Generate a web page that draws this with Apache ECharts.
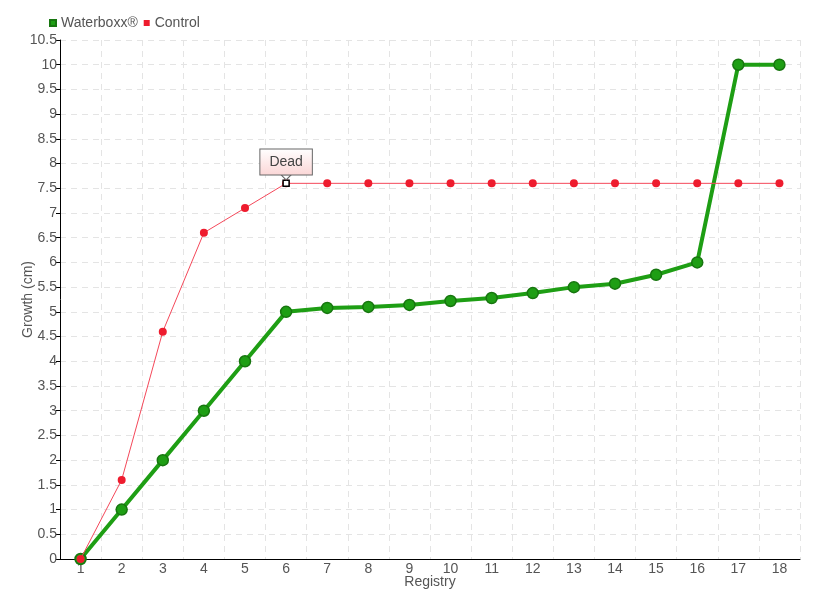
<!DOCTYPE html>
<html>
<head>
<meta charset="utf-8">
<script src="https://cdn.jsdelivr.net/npm/echarts@6/dist/echarts.min.js"></script>
<style>
  html, body { margin: 0; padding: 0; background: #fff; }
  #chart { width: 820px; height: 600px; }
</style>
</head>
<body>
<div id="chart"></div>
<script>
// registry steps on the x axis
const registry = ['1', '2', '3', '4', '5', '6', '7', '8', '9', '10', '11', '12', '13', '14', '15', '16', '17', '18']
// growth in cm
const waterboxx = [0, 1, 2, 3, 4, 5, 5.08, 5.1, 5.14, 5.22, 5.28, 5.38, 5.5, 5.57, 5.75, 6, 10, 10]
const control = [0, 1.6, 4.6, 6.6, 7.1, 7.6, 7.6, 7.6, 7.6, 7.6, 7.6, 7.6, 7.6, 7.6, 7.6, 7.6, 7.6, 7.6]
const deadIndex = 5

const font = '"Liberation Sans Narrow", "Liberation Sans", sans-serif'
const textColor = '#555'
const green = '#1e9e14'
const red = '#ee1c2e'

const chart = echarts.init(document.getElementById('chart'))

const option = {
  animation: false,
  textStyle: { fontFamily: font, color: textColor },
  legend: {
    left: 44,
    top: 11,
    itemWidth: 6,
    itemHeight: 6,
    itemGap: 6,
    textStyle: { fontFamily: font, fontSize: 14, color: textColor },
    data: [
      { name: 'Waterboxx®', icon: 'rect' },
      { name: 'Control', icon: 'rect' }
    ]
  },
  grid: { left: 60, right: 20, top: 40, bottom: 41, outerBoundsMode: 'none' },
  xAxis: {
    type: 'category',
    data: registry,
    name: 'Registry',
    nameLocation: 'middle',
    nameGap: 16,
    nameMoveOverlap: false,
    nameTextStyle: { fontFamily: font, fontSize: 14, color: textColor },
    axisLine: { lineStyle: { color: '#000' } },
    axisTick: { alignWithLabel: true, length: 4, lineStyle: { color: '#000' } },
    axisLabel: { fontFamily: font, fontSize: 14, color: textColor, margin: 3 },
    splitLine: { show: true, lineStyle: { color: '#e4e4e4', type: [6, 5] } }
  },
  yAxis: {
    type: 'value',
    min: 0,
    max: 10.5,
    interval: 0.5,
    name: 'Growth (cm)',
    nameLocation: 'middle',
    nameGap: 25,
    nameMoveOverlap: false,
    nameTextStyle: { fontFamily: font, fontSize: 14, color: textColor },
    axisLine: { show: true, lineStyle: { color: '#000' } },
    axisTick: { show: true, length: 4, lineStyle: { color: '#000' } },
    axisLabel: { fontFamily: font, fontSize: 14, color: textColor, margin: 3 },
    splitLine: { lineStyle: { color: '#e4e4e4', type: [6, 5] } }
  },
  series: [
    {
      name: 'Waterboxx®',
      type: 'line',
      data: waterboxx,
      color: green,
      symbol: 'circle',
      symbolSize: 11,
      lineStyle: { width: 4, color: green },
      itemStyle: { color: green, borderColor: '#17760f', borderWidth: 1.5 },
      z: 2
    },
    {
      name: 'Control',
      type: 'line',
      data: control,
      color: red,
      symbol: 'circle',
      symbolSize: 8,
      lineStyle: { width: 1, color: '#f4485a' },
      itemStyle: { color: red },
      z: 3,
      markPoint: {
        silent: true,
        data: [
          {
            coord: [deadIndex, control[deadIndex]],
            symbol: 'rect',
            symbolSize: 6,
            itemStyle: { color: '#fff', borderColor: '#000', borderWidth: 1.5 },
            label: { show: false }
          },
          {
            coord: [deadIndex, control[deadIndex]],
            symbol: 'triangle',
            symbolRotate: 180,
            symbolSize: [10, 5],
            symbolOffset: [0, -6],
            itemStyle: { color: '#fff', borderColor: '#666', borderWidth: 1 },
            label: {
              show: true,
              position: 'top',
              distance: 0,
              formatter: 'Dead',
              fontFamily: font,
              fontSize: 14,
              color: '#444',
              padding: [6, 9, 5, 9],
              borderColor: '#666',
              borderWidth: 1,
              backgroundColor: {
                type: 'linear', x: 0, y: 0, x2: 0, y2: 1,
                colorStops: [
                  { offset: 0, color: '#fff' },
                  { offset: 1, color: '#fbd6d6' }
                ]
              }
            }
          }
        ]
      }
    }
  ]
}

chart.setOption(option)
</script>
</body>
</html>
